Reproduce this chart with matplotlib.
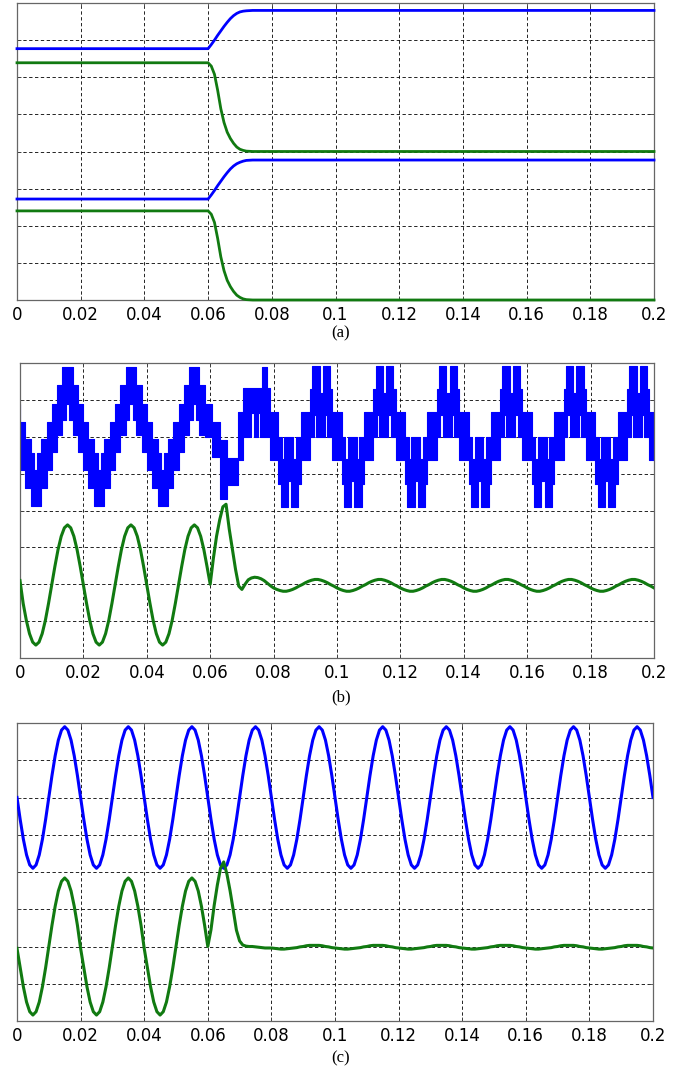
import matplotlib
matplotlib.use("Agg")
import matplotlib.pyplot as plt
import numpy as np

BLUE = "#0000ff"
GREEN = "#117a11"

X_TICKS = [0, 0.02, 0.04, 0.06, 0.08, 0.1, 0.12, 0.14, 0.16, 0.18, 0.2]
X_LABELS = ["0", "0.02", "0.04", "0.06", "0.08", "0.1", "0.12", "0.14", "0.16", "0.18", "0.2"]
Y_GRID = [1, 2, 3, 4, 5, 6, 7]

# ---- panel (a): four dc-like traces, step change at 0.06 s
A_T = [0.000, 0.060, 0.061, 0.062, 0.063, 0.064, 0.065, 0.066, 0.067,
       0.068, 0.069, 0.070, 0.071, 0.072, 0.074, 0.080, 0.200]
A_BLUE_TOP = [6.77, 6.77, 6.88, 7.00, 7.13, 7.25, 7.37, 7.48, 7.58,
              7.66, 7.72, 7.76, 7.78, 7.79, 7.80, 7.80, 7.80]
A_GREEN_TOP = [6.39, 6.39, 6.30, 6.08, 5.65, 5.15, 4.78, 4.52, 4.35,
               4.22, 4.12, 4.06, 4.03, 4.01, 4.00, 4.00, 4.00]
A_BLUE_BOT = [2.72, 2.72, 2.83, 2.95, 3.08, 3.20, 3.32, 3.43, 3.53,
              3.61, 3.67, 3.71, 3.74, 3.76, 3.77, 3.77, 3.77]
A_GREEN_BOT = [2.40, 2.40, 2.31, 2.09, 1.66, 1.16, 0.79, 0.53, 0.36,
               0.23, 0.13, 0.07, 0.03, 0.01, 0.00, 0.00, 0.00]

# ---- sampled curves, one value per ms from 0 to 0.2 s
B_GREEN_PRE_FIRST = [2.10, 1.48, 1.02, 0.66, 0.43, 0.35, 0.43, 0.66, 1.02, 1.48,
                     1.98, 2.48, 2.94, 3.30, 3.53, 3.61, 3.53, 3.30, 2.94, 2.48]
B_GREEN_PRE = [1.98, 1.48, 1.02, 0.66, 0.43, 0.35, 0.43, 0.66, 1.02, 1.48,
               1.98, 2.48, 2.94, 3.30, 3.53, 3.61, 3.53, 3.30, 2.94, 2.48]
B_GREEN_TRANS = [2.00, 2.70, 3.30, 3.75, 4.10, 4.17, 3.50, 2.95, 2.40, 1.95,
                 1.86, 2.00, 2.12, 2.17, 2.19, 2.18, 2.15, 2.10, 2.03, 1.96]
B_GREEN_POST = [1.90, 1.86, 1.83, 1.81, 1.81, 1.83, 1.86, 1.90, 1.95, 1.99,
                2.04, 2.08, 2.11, 2.13, 2.13, 2.11, 2.08, 2.04, 1.99, 1.95]
B_GREEN = B_GREEN_PRE_FIRST + B_GREEN_PRE * 2 + B_GREEN_TRANS + B_GREEN_POST * 6 + [1.90]

C_BLUE_CYCLE = [6.00, 5.41, 4.88, 4.46, 4.19, 4.10, 4.19, 4.46, 4.88, 5.41,
                6.00, 6.59, 7.12, 7.54, 7.81, 7.90, 7.81, 7.54, 7.12, 6.59]
C_BLUE = C_BLUE_CYCLE * 10 + [6.00]

C_GREEN_PRE = [1.95, 1.43, 0.92, 0.51, 0.25, 0.16, 0.25, 0.51, 0.92, 1.43,
               2.00, 2.57, 3.08, 3.49, 3.75, 3.84, 3.75, 3.49, 3.08, 2.57]
C_GREEN_TRANS = [2.00, 2.45, 3.10, 3.65, 4.10, 4.27, 3.95, 3.50, 2.98, 2.44,
                 2.15, 2.04, 2.01, 2.00, 2.00, 1.99, 1.98, 1.97, 1.96, 1.96]
C_GREEN_POST = [1.96, 1.95, 1.94, 1.93, 1.93, 1.94, 1.95, 1.96, 1.97, 1.99,
                2.00, 2.02, 2.03, 2.03, 2.03, 2.03, 2.02, 2.00, 1.99, 1.97]
C_GREEN = C_GREEN_PRE * 3 + C_GREEN_TRANS + C_GREEN_POST * 6 + [1.96]

# ---- panel (b) blue: multilevel staircase, drawn as bands (offset, low, high)
# one period before the change, offsets from a peak centre
B_PRE_CYCLE = [
    (0.0000, 6.90, 7.88), (0.0005, 6.45, 7.88), (0.0016, 6.05, 7.40),
    (0.0034, 5.59, 6.90), (0.0050, 5.10, 6.41), (0.0066, 4.60, 5.95),
    (0.0084, 4.12, 5.55), (0.0095, 4.12, 5.10), (0.0105, 4.12, 5.55),
    (0.0116, 4.60, 5.95), (0.0134, 5.10, 6.41), (0.0150, 5.59, 6.90),
    (0.0166, 6.05, 7.40), (0.0184, 6.45, 7.88), (0.0195, 6.90, 7.88),
]
B_PRE_STARTS = [-0.005, 0.015, 0.035]
# transient around the change, absolute times
B_TRANSIENT = [
    (0.0550, 6.90, 7.88), (0.0555, 6.45, 7.88), (0.0566, 6.05, 7.40),
    (0.0584, 5.99, 6.90), (0.0605, 5.46, 6.41), (0.0630, 4.30, 5.90),
    (0.0652, 4.70, 5.42), (0.0689, 5.38, 6.67), (0.0705, 6.00, 7.31),
    (0.0729, 6.64, 7.31), (0.0737, 6.00, 7.31), (0.0750, 6.64, 7.31),
    (0.0758, 6.00, 7.31), (0.0762, 6.00, 7.90), (0.0780, 6.00, 7.31),
    (0.0790, 5.38, 6.67),
]
# one period after the change, offsets from the start of a trough
B_POST_CYCLE = [
    (0.0000, 4.73, 5.99), (0.0007, 4.09, 5.99), (0.0011, 4.09, 5.40),
    (0.0019, 4.09, 5.99), (0.0030, 4.80, 5.99), (0.0040, 4.09, 5.99),
    (0.0047, 4.09, 5.40), (0.0055, 4.09, 5.99), (0.0063, 4.73, 5.99),
    (0.0070, 5.36, 6.67), (0.0100, 5.99, 7.30), (0.0107, 5.99, 7.92),
    (0.0111, 6.60, 7.92), (0.0119, 5.99, 7.92), (0.0130, 5.99, 7.20),
    (0.0140, 5.99, 7.92), (0.0147, 6.60, 7.92), (0.0155, 5.99, 7.92),
    (0.0163, 5.99, 7.30), (0.0170, 5.36, 6.67),
]
B_POST_STARTS = [0.0815, 0.1015, 0.1215, 0.1415, 0.1615, 0.1815]
B_END = 0.2015


def staircase():
    rows = []
    for s in B_PRE_STARTS:
        rows += [(s + o, lo, hi) for o, lo, hi in B_PRE_CYCLE]
    rows += B_TRANSIENT
    for s in B_POST_STARTS:
        rows += [(s + o, lo, hi) for o, lo, hi in B_POST_CYCLE]
    t = [r[0] for r in rows] + [B_END]
    lo = [r[1] for r in rows] + [rows[-1][1]]
    hi = [r[2] for r in rows] + [rows[-1][2]]
    return t, lo, hi


def style(ax):
    ax.set_xlim(0, 0.2)
    ax.set_ylim(0, 8)
    ax.set_xticks(X_TICKS)
    ax.set_xticklabels(X_LABELS, fontsize=12)
    ax.set_yticks(Y_GRID)
    ax.set_yticklabels([])
    ax.tick_params(direction="in", length=3, width=0.6, pad=4,
                   top=True, right=True, colors="#444444", labelcolor="black")
    ax.grid(True, color="black", linestyle=(0, (4, 3)), linewidth=0.6)
    for sp in ax.spines.values():
        sp.set_color("#666666")
        sp.set_linewidth(0.9)


fig = plt.figure(figsize=(6.84, 10.72), dpi=100)
W, H = 684, 1072


def add_axes(left, right, top, bottom):
    return fig.add_axes([left / W, 1 - bottom / H, (right - left) / W, (bottom - top) / H])


t_fine = np.linspace(0, 0.2, 201)

# (a)
ax_a = add_axes(17, 654, 3, 300)
style(ax_a)
for ys, col in ((A_BLUE_TOP, BLUE), (A_GREEN_TOP, GREEN),
                (A_BLUE_BOT, BLUE), (A_GREEN_BOT, GREEN)):
    ax_a.plot(A_T, ys, color=col, linewidth=2.0, clip_on=False, zorder=3)

# (b)
ax_b = add_axes(20, 654, 363, 658)
style(ax_b)
st_t, st_lo, st_hi = staircase()
ax_b.fill_between(st_t, st_lo, st_hi, step="post", facecolor=BLUE,
                  edgecolor=BLUE, linewidth=0.8, zorder=2)
ax_b.plot(t_fine, B_GREEN, color=GREEN, linewidth=2.2, zorder=3)

# (c)
ax_c = add_axes(17, 653, 723, 1021)
style(ax_c)
ax_c.plot(t_fine, C_BLUE, color=BLUE, linewidth=2.2, zorder=3)
ax_c.plot(t_fine, C_GREEN, color=GREEN, linewidth=2.2, zorder=3)

for label, y in (("(a)", 333), ("(b)", 697), ("(c)", 1058)):
    fig.text(341 / W, 1 - y / H, label, ha="center", va="center",
             fontsize=12, family="Liberation Serif")

fig.savefig("out.png", dpi=100)
